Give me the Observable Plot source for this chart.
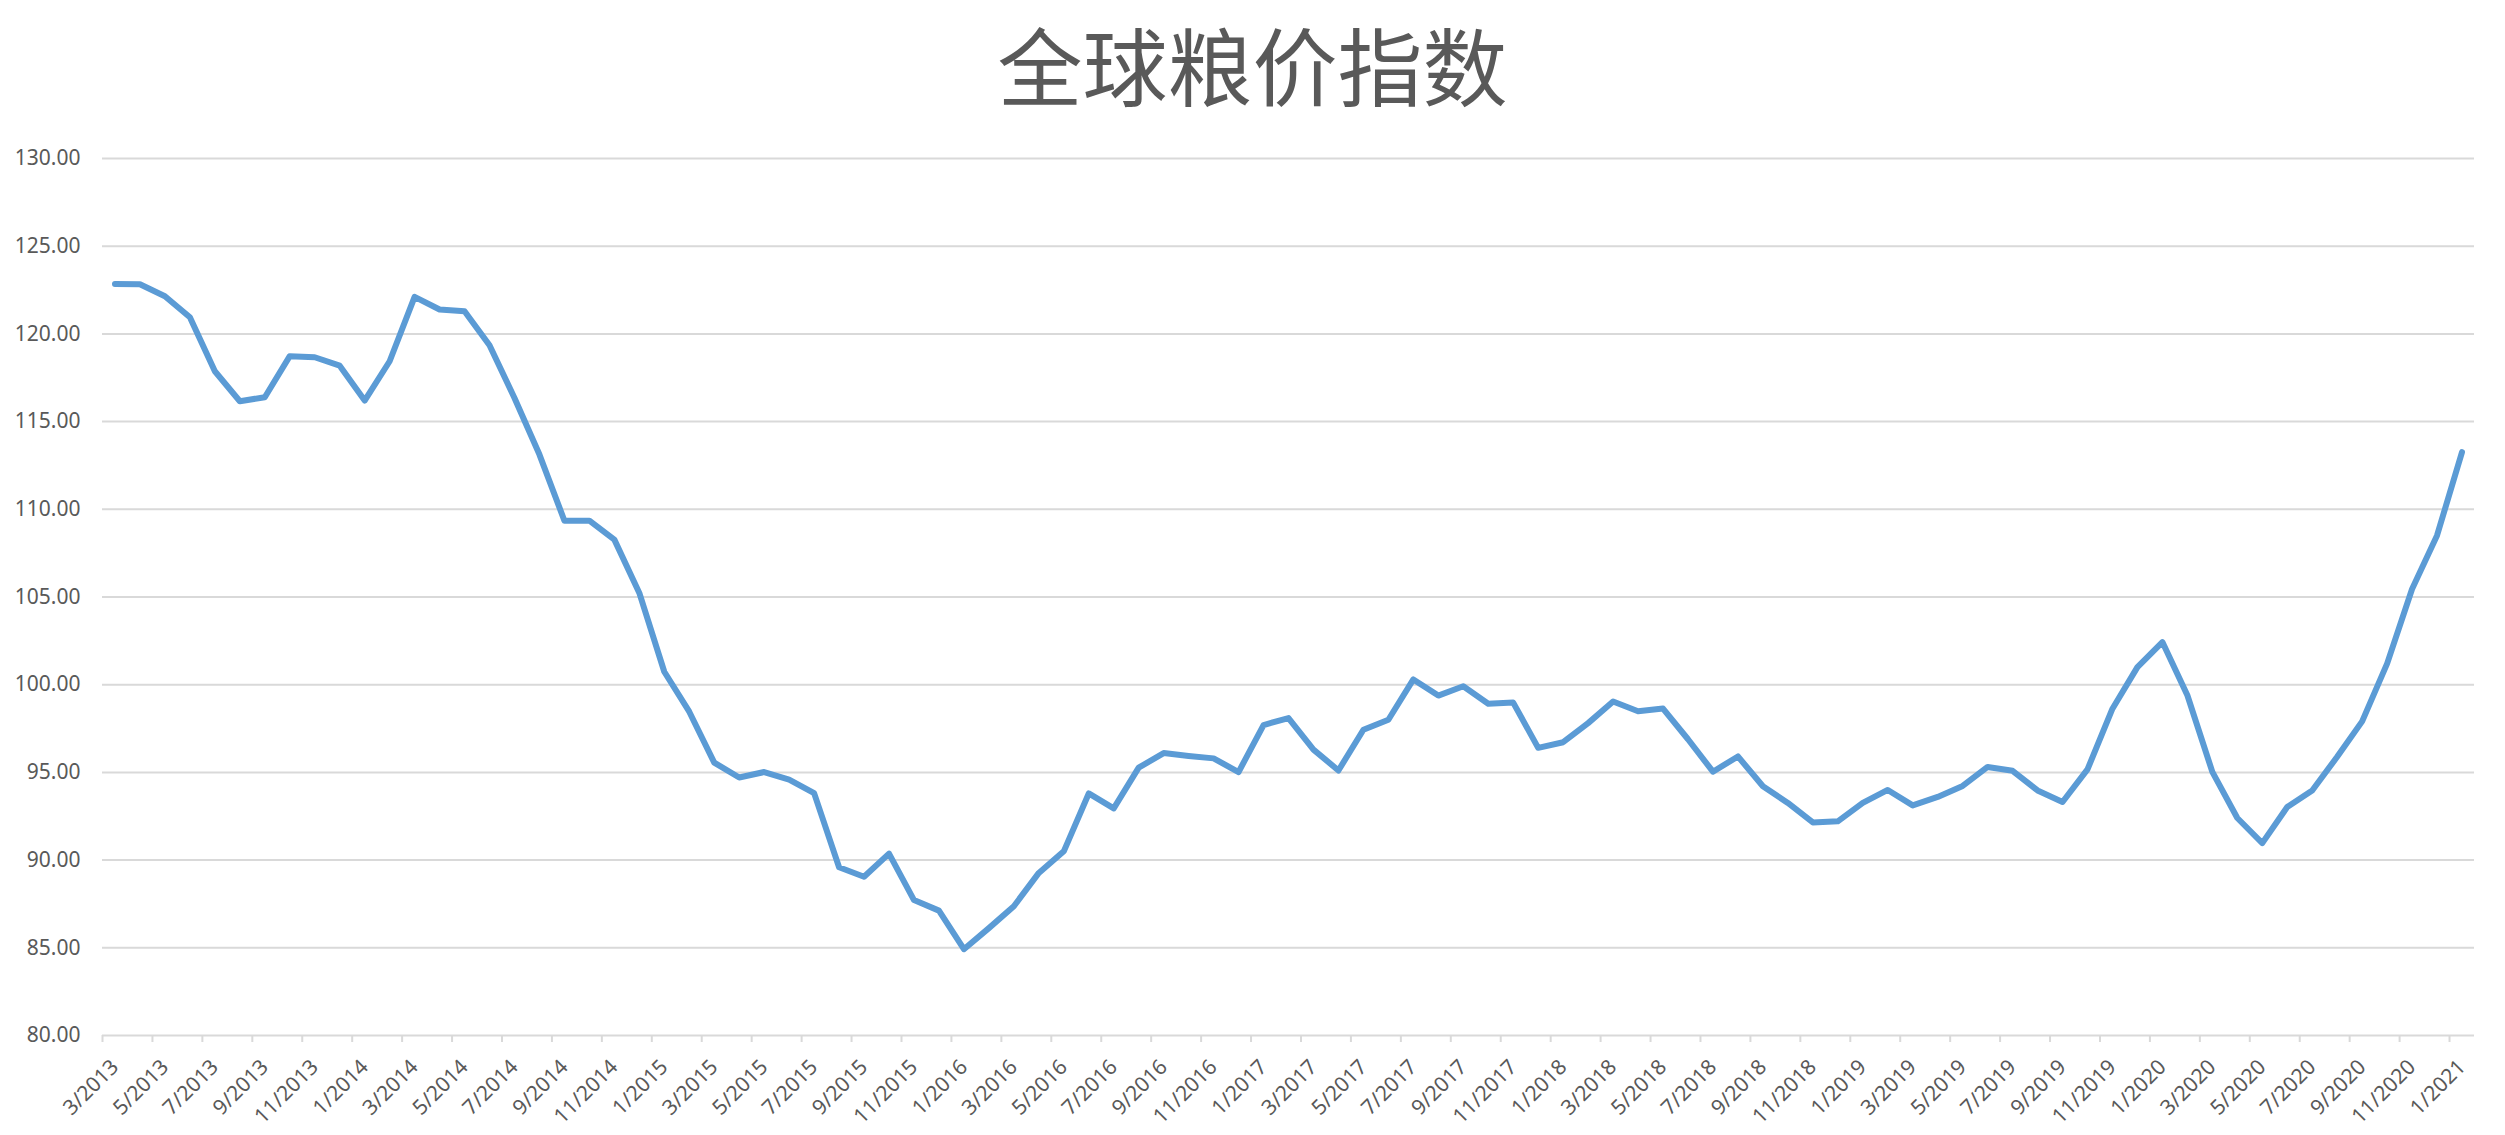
<!DOCTYPE html>
<html>
<head>
<meta charset="utf-8">
<script src="https://cdn.jsdelivr.net/npm/d3@7"></script>
<script src="https://cdn.jsdelivr.net/npm/@observablehq/plot@0.6"></script>
<style>
  html, body { margin: 0; padding: 0; background: #ffffff; }
  #title {
    position: absolute; left: 0; top: 20px; width: 2505px;
    text-align: center; color: #595959;
    font-family: "Noto Sans CJK SC", sans-serif; font-weight: 400;
    font-size: 85px; line-height: 85px; white-space: nowrap;
  }
  #chart { position: absolute; left: 0; top: 130px; }
</style>
</head>
<body>
<div id="title">全球粮价指数</div>
<div id="chart"></div>
<script>
// Monthly index values, 3/2013 … 1/2021
const v2013 = [122.85, 122.83, 122.15, 120.95, 117.87, 116.16, 116.39, 118.73, 118.67, 118.19]; // Mar–Dec
const v2014 = [116.20, 118.44, 122.11, 121.39, 121.29, 119.35, 116.35, 113.12, 109.35, 109.35, 108.27, 105.23];
const v2015 = [100.74, 98.46, 95.56, 94.71, 95.02, 94.59, 93.82, 89.59, 89.05, 90.37, 87.72, 87.12];
const v2016 = [84.92, 86.12, 87.37, 89.27, 90.50, 93.80, 92.95, 95.27, 96.10, 95.94, 95.80, 95.02];
const v2017 = [97.70, 98.10, 96.30, 95.11, 97.43, 98.00, 100.30, 99.38, 99.91, 98.91, 98.98, 96.40];
const v2018 = [96.72, 97.81, 99.04, 98.49, 98.64, 96.89, 95.04, 95.91, 94.21, 93.26, 92.15, 92.21];
const v2019 = [93.26, 94.00, 93.12, 93.60, 94.23, 95.31, 95.09, 93.97, 93.31, 95.17, 98.63, 101.00];
const v2020 = [102.43, 99.40, 95.03, 92.40, 90.97, 93.03, 93.97, 95.89, 97.91, 101.20, 105.46, 108.51];
const v2021 = [113.26]; // Jan

// Category tick labels (every second month)
const tickLabels = [
  "3/2013","5/2013","7/2013","9/2013","11/2013",
  "1/2014","3/2014","5/2014","7/2014","9/2014","11/2014",
  "1/2015","3/2015","5/2015","7/2015","9/2015","11/2015",
  "1/2016","3/2016","5/2016","7/2016","9/2016","11/2016",
  "1/2017","3/2017","5/2017","7/2017","9/2017","11/2017",
  "1/2018","3/2018","5/2018","7/2018","9/2018","11/2018",
  "1/2019","3/2019","5/2019","7/2019","9/2019","11/2019",
  "1/2020","3/2020","5/2020","7/2020","9/2020","11/2020",
  "1/2021"
];
const yTicks = [80, 85, 90, 95, 100, 105, 110, 115, 120, 125, 130];

const values = [...v2013, ...v2014, ...v2015, ...v2016, ...v2017, ...v2018, ...v2019, ...v2020, ...v2021];
const points = values.map((v, i) => ({i, v}));
const ticks = tickLabels.map((label, k) => ({k: 2 * k, label}));

const chart = Plot.plot({
  width: 2505,
  height: 1005,
  marginLeft: 102,
  marginRight: 31,
  marginTop: 28,
  marginBottom: 100,
  style: {
    fontFamily: "'Noto Sans', sans-serif",
    fontSize: "21px",
    color: "#595959",
    background: "#ffffff",
    overflow: "visible"
  },
  x: {domain: [0, values.length], axis: null},
  y: {
    domain: [80, 130],
    ticks: yTicks,
    tickFormat: d => d.toFixed(2),
    tickSize: 0,
    tickPadding: 22,
    label: null
  },
  marks: [
    Plot.ruleY(yTicks, {stroke: "#D9D9D9", strokeWidth: 2}),
    Plot.ruleX(ticks, {x: "k", y1: 80, y2: 80, insetBottom: -7, stroke: "#D9D9D9", strokeWidth: 2}),
    Plot.text(ticks, {
      x: d => d.k + 0.5, y: 80, text: "label",
      rotate: -45, textAnchor: "end", dy: 28,
      fill: "#595959", fontSize: 21
    }),
    Plot.line(points, {
      x: d => d.i + 0.5, y: "v",
      stroke: "#5B9BD5", strokeWidth: 6,
      strokeLinejoin: "round", strokeLinecap: "round"
    })
  ]
});
document.getElementById("chart").appendChild(chart);
</script>
</body>
</html>
